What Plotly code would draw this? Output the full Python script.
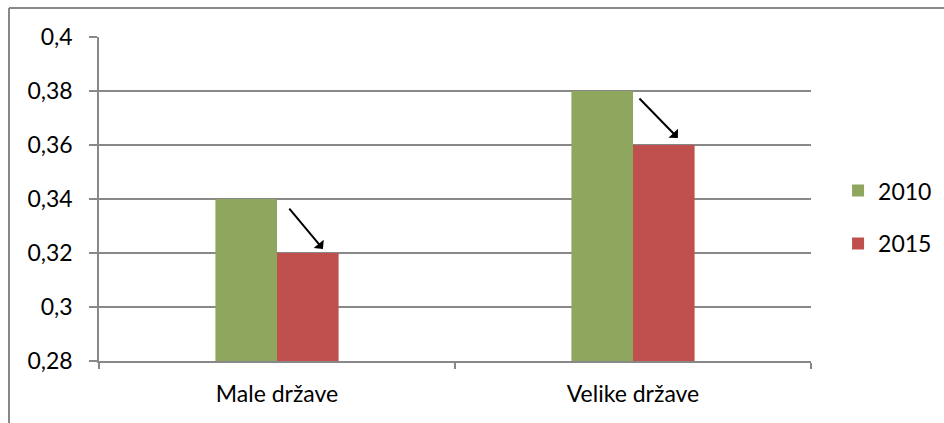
import plotly.graph_objects as go

categories = ["Male države", "Velike države"]
series_names = ["2010", "2015"]
values_2010 = [0.34, 0.38]
values_2015 = [0.32, 0.36]
colors = ["#8EA65D", "#C0504D"]
y_ticks = [0.28, 0.30, 0.32, 0.34, 0.36, 0.38, 0.40]
y_tick_text = ["0,28", "0,3", "0,32", "0,34", "0,36", "0,38", "0,4"]
# arrows: (category index, tail offset, tail y, head offset, head y)
arrows = [
    (0, 0.031, 0.3370, 0.129, 0.3215),
    (1, 0.014, 0.3778, 0.126, 0.3626),
]

FONT = "Lato"
GRID = "#888888"

fig = go.Figure()
for name, vals, col in zip(series_names, [values_2010, values_2015], colors):
    fig.add_trace(go.Bar(
        x=categories, y=vals, name=name, legendgroup=name,
        marker=dict(color=col, line=dict(width=0)),
    ))

for idx, tx, ty, hx, hy in arrows:
    fig.add_annotation(
        x=idx + hx, y=hy, ax=idx + tx, ay=ty,
        xref="x", yref="y", axref="x", ayref="y",
        showarrow=True, arrowhead=1, arrowsize=1.1, arrowwidth=2,
        arrowcolor="#000000", text="",
    )

# outer chart frame (top and left edges visible)
fig.add_shape(type="line", xref="paper", yref="paper",
              x0=-0.1264, y0=1.0895, x1=1.2, y1=1.0895,
              line=dict(color=GRID, width=2))
fig.add_shape(type="line", xref="paper", yref="paper",
              x0=-0.1264, y0=1.0895, x1=-0.1264, y1=-0.3,
              line=dict(color=GRID, width=2))

fig.update_layout(
    width=944, height=423,
    margin=dict(l=99, r=133, t=37, b=62, autoexpand=False),
    paper_bgcolor="white", plot_bgcolor="white",
    barmode="group", bargap=0.654, bargroupgap=0,
    font=dict(family=FONT, size=23, color="#000000"),
    showlegend=True,
    legend=dict(x=1.038, y=0.444, xanchor="left", yanchor="middle",
                font=dict(size=23), tracegroupgap=20,
                itemwidth=30, bgcolor="rgba(0,0,0,0)"),
    xaxis=dict(
        type="category", range=[-0.5, 1.5],
        showline=True, linecolor=GRID, linewidth=1.5,
        ticks="outside", tickson="boundaries", ticklen=6,
        tickcolor=GRID, tickwidth=1.5, showgrid=False,
        ticklabelstandoff=12,
    ),
    yaxis=dict(
        range=[0.28, 0.40], tickvals=y_ticks, ticktext=y_tick_text,
        showline=True, linecolor=GRID, linewidth=1.5,
        ticks="outside", ticklen=8, tickcolor=GRID, tickwidth=1.5,
        showgrid=True, gridcolor=GRID, gridwidth=1.5, zeroline=False,
        ticklabelstandoff=12,
    ),
)

fig.write_html("out.html")
